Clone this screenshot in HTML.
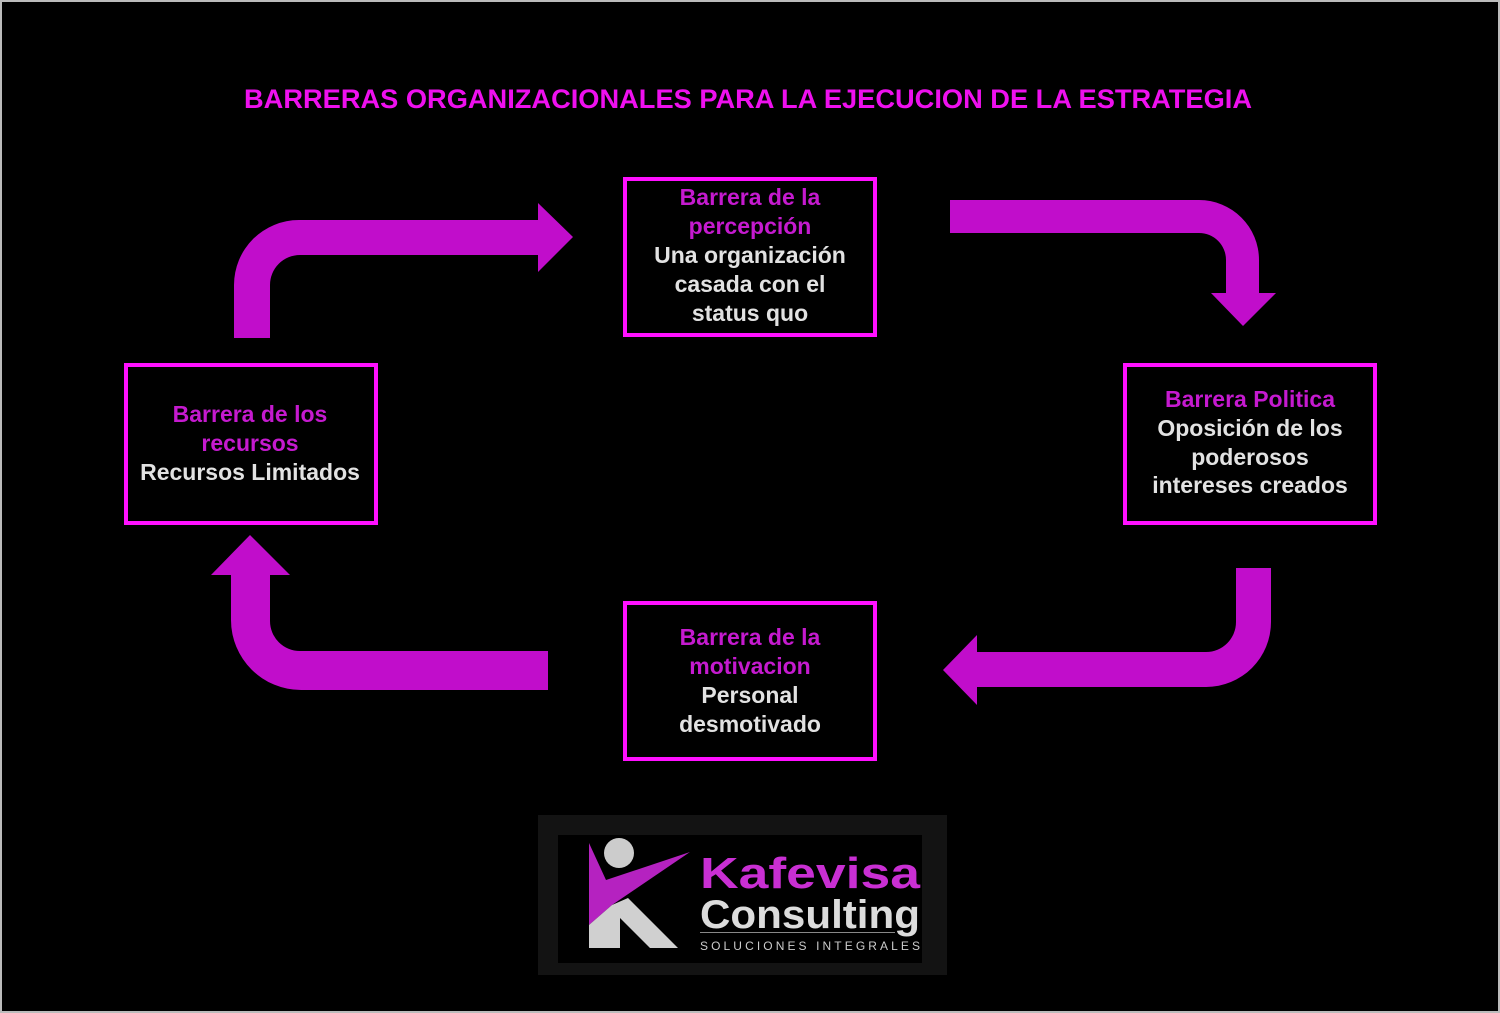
<!DOCTYPE html>
<html><head><meta charset="utf-8"><style>
html,body{margin:0;padding:0;background:#000;}
body{width:1500px;height:1013px;overflow:hidden;}
svg{display:block}
</style></head><body>
<svg width="1500" height="1013" viewBox="0 0 1500 1013" xmlns="http://www.w3.org/2000/svg" font-family="Liberation Sans, sans-serif">
<rect x="0" y="0" width="1500" height="1013" fill="#000"/>
<rect x="1" y="1" width="1498" height="1011" fill="none" stroke="#bbb" stroke-width="2"/>
<text x="748" y="108" text-anchor="middle" font-size="27" font-weight="bold" fill="#ee10ee" textLength="1008" lengthAdjust="spacingAndGlyphs">BARRERAS ORGANIZACIONALES PARA LA EJECUCION DE LA ESTRATEGIA</text>
<g fill="#c10dcb">
<path d="M234 338 L234 285 A65 65 0 0 1 299 220 L538 220 L538 203 L573 237 L538 272 L538 255 L300 255 A30 30 0 0 0 270 285 L270 338 Z"/>
<path d="M950 200 L1199 200 A60 60 0 0 1 1259 260 L1259 293 L1276 293 L1243 326 L1211 293 L1226 293 L1226 260 A27 27 0 0 0 1199 233 L950 233 Z"/>
<path d="M1271 568 L1271 622 A65 65 0 0 1 1206 687 L977 687 L977 705 L943 670 L977 635 L977 652 L1206 652 A30 30 0 0 0 1236 622 L1236 568 Z"/>
<path d="M548 690 L301 690 A70 70 0 0 1 231 620 L231 575 L211 575 L250 535 L290 575 L270 575 L270 621 A30 30 0 0 0 300 651 L548 651 Z"/>
</g>
<g fill="none" stroke="#ff10ff" stroke-width="4">
<rect x="625" y="179" width="250" height="156"/>
<rect x="126" y="365" width="250" height="158"/>
<rect x="1125" y="365" width="250" height="158"/>
<rect x="625" y="603" width="250" height="156"/>
</g>
<g font-size="23" text-anchor="middle" font-weight="bold">
<text x="750" y="205" fill="#c51acf">Barrera de la</text>
<text x="750" y="234" fill="#c51acf">percepción</text>
<text x="750" y="263" fill="#e2e2e2">Una organización</text>
<text x="750" y="292" fill="#e2e2e2">casada con el</text>
<text x="750" y="321" fill="#e2e2e2">status quo</text>

<text x="250" y="422" fill="#c51acf">Barrera de los</text>
<text x="250" y="451" fill="#c51acf">recursos</text>
<text x="250" y="480" fill="#e2e2e2">Recursos Limitados</text>

<text x="1250" y="407" fill="#c51acf">Barrera Politica</text>
<text x="1250" y="436" fill="#e2e2e2">Oposición de los</text>
<text x="1250" y="465" fill="#e2e2e2">poderosos</text>
<text x="1250" y="493" fill="#e2e2e2">intereses creados</text>

<text x="750" y="645" fill="#c51acf">Barrera de la</text>
<text x="750" y="674" fill="#c51acf">motivacion</text>
<text x="750" y="703" fill="#e2e2e2">Personal</text>
<text x="750" y="732" fill="#e2e2e2">desmotivado</text>
</g>
<rect x="538" y="815" width="409" height="160" fill="#131313"/>
<rect x="558" y="835" width="364" height="128" fill="#000"/>
<circle cx="619" cy="853" r="15" fill="#ccc"/>
<path d="M589 843 L606 880 L690 852 L612 905 L589 925 Z" fill="#b522c0"/>
<path d="M589 925 L612 905 L628 898 L678 948 L650 948 L620 918 L620 948 L589 948 Z" fill="#d0d0d0"/>
<text x="700" y="888" font-size="44" font-weight="bold" fill="#c92fd3" textLength="220" lengthAdjust="spacingAndGlyphs">Kafevisa</text>
<text x="700" y="928" font-size="40" font-weight="bold" fill="#dcdcdc" textLength="220" lengthAdjust="spacingAndGlyphs">Consulting</text>
<rect x="700" y="932" width="195" height="1" fill="#888"/>
<text x="700" y="950" font-size="12" fill="#ccc" textLength="220" lengthAdjust="spacing">SOLUCIONES INTEGRALES</text>
</svg>
</body></html>
